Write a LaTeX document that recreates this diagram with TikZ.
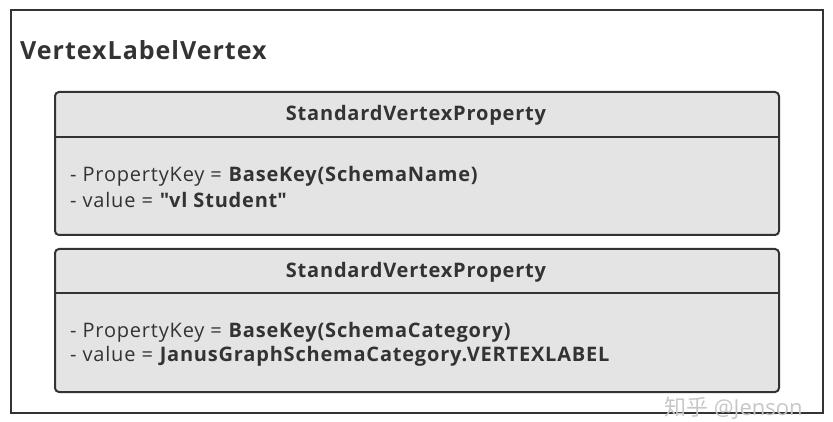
\documentclass[tikz,border=0pt]{standalone}
\usepackage{fontspec}
\setmainfont{Open Sans}[LetterSpace=4]
\newfontfamily\markfont{Open Sans}
\newfontfamily\cjkfont{Noto Sans CJK SC}
\usetikzlibrary{positioning,calc}

\definecolor{linegray}{HTML}{333333}
\definecolor{boxgray}{HTML}{E4E4E4}

\begin{document}
\begin{tikzpicture}[x=1pt,y=-1pt]
            \tikzstyle{frame}=[draw=linegray, line width=2pt]
            \tikzstyle{classbox}=[draw=linegray, fill=boxgray, line width=2pt,
            rounded corners=4pt, anchor=north west, inner sep=0pt,
            minimum width=724pt, minimum height=143pt]
            \tikzstyle{head}=[text=linegray, font=\fontsize{20}{24}\selectfont\bfseries]
            \tikzstyle{attr}=[text=linegray, anchor=west, inner sep=0pt,
            font=\fontsize{20}{24}\selectfont]
            \useasboundingbox (0,0) rectangle (833,422);
            \node[frame, anchor=north west, inner sep=0pt,
            minimum width=812pt, minimum height=403pt] (outer) at (10,9) {};
            \node[text=linegray, anchor=west, inner sep=0pt,
            font=\fontsize{25}{30}\selectfont\bfseries] (title) at (20,50) {VertexLabelVertex};
            % first property
            \node[classbox] (p1) at (54,91) {};
            \coordinate (p1l) at ($(p1.north west)+(0,46)$);
            \coordinate (p1r) at ($(p1.north east)+(0,46)$);
            \draw[frame] (p1l) -- (p1r);
            \node[head] (p1h) at (416,115) {StandardVertexProperty};
            \node[attr] (p1a) at (70,176) {- PropertyKey = \textbf{BaseKey(SchemaName)}};
            \node[attr] (p1b) at (70,200) {- value = \textbf{\textquotedbl vl Student\textquotedbl}};
            % second property
            \node[classbox] (p2) at (54,248) {};
            \coordinate (p2l) at ($(p2.north west)+(0,45)$);
            \coordinate (p2r) at ($(p2.north east)+(0,45)$);
            \draw[frame] (p2l) -- (p2r);
            \node[head] (p2h) at (416,272) {StandardVertexProperty};
            \node[attr] (p2a) at (70,332) {- PropertyKey = \textbf{BaseKey(SchemaCategory)}};
            \node[attr] (p2b) at (70,356) {- value = \textbf{JanusGraphSchemaCategory.VERTEXLABEL}};
            % watermark
            \node[text=black!22, anchor=west, inner sep=0pt,
            font=\fontsize{22}{26}\markfont] (mark) at (664,408) {{\cjkfont 知乎} @Jenson};
        \end{tikzpicture}
\end{document}
